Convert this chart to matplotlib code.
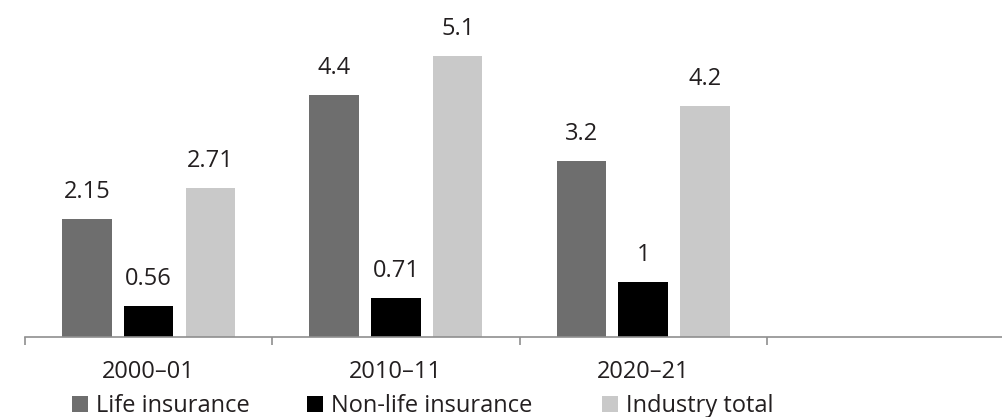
import matplotlib
matplotlib.use("Agg")
import matplotlib.pyplot as plt
from matplotlib.patches import Patch
import numpy as np

plt.rcParams['font.family'] = ['Open Sans', 'DejaVu Sans']

categories = ["2000\u201301", "2010\u201311", "2020\u201321"]
series_names = ["Life insurance", "Non-life insurance", "Industry total"]
life = [2.15, 4.4, 3.2]
nonlife = [0.56, 0.71, 1.0]
industry = [2.71, 5.1, 4.2]
life_labels = ["2.15", "4.4", "3.2"]
nonlife_labels = ["0.56", "0.71", "1"]
industry_labels = ["2.71", "5.1", "4.2"]

colors = ["#6e6e6e", "#000000", "#c9c9c9"]
text_color = "#231f20"
axis_color = "#8f8f8f"
fs = 17

W, H = 1003, 417
fig = plt.figure(figsize=(W / 100, H / 100), dpi=100)
ax = fig.add_axes([25 / W, 1 - 337 / H, 1 - 25 / W, 337 / H])

x = np.arange(len(categories))
offsets = [-0.25, 0.0, 0.25]
all_vals = [life, nonlife, industry]
all_labels = [life_labels, nonlife_labels, industry_labels]
for vals, labs, off, c in zip(all_vals, all_labels, offsets, colors):
    ax.bar(x + off, vals, width=0.2, color=c, edgecolor='none')
    for xi, v, lab in zip(x + off, vals, labs):
        ax.annotate(lab, xy=(xi, v), xytext=(0, 15), textcoords='offset points',
                    ha='center', va='baseline', fontsize=fs, color=text_color)

ax.set_xlim(-0.5, 3.455)
ax.set_ylim(0, 6.116)

for s in ['top', 'right', 'left']:
    ax.spines[s].set_visible(False)
ax.spines['bottom'].set_color(axis_color)
ax.spines['bottom'].set_linewidth(1.2)
ax.set_yticks([])

ax.set_xticks(x)
ax.set_xticklabels(categories, fontsize=fs, color=text_color)
ax.tick_params(axis='x', which='major', length=0, pad=16.5)
ax.set_xticks(np.arange(len(categories) + 1) - 0.5, minor=True)
ax.tick_params(axis='x', which='minor', length=6, width=1.2, color=axis_color, direction='out')

legend_x = [72, 307, 602]
for name, c, lx in zip(series_names, colors, legend_x):
    fig.legend(handles=[Patch(facecolor=c, edgecolor='none')], labels=[name],
               loc='center left', bbox_to_anchor=(lx / W, 1 - 406 / H),
               frameon=False, borderpad=0, borderaxespad=0,
               handlelength=0.68, handleheight=0.68, handletextpad=0.35,
               fontsize=fs, labelcolor=text_color)

fig.savefig("out.png", dpi=100)
